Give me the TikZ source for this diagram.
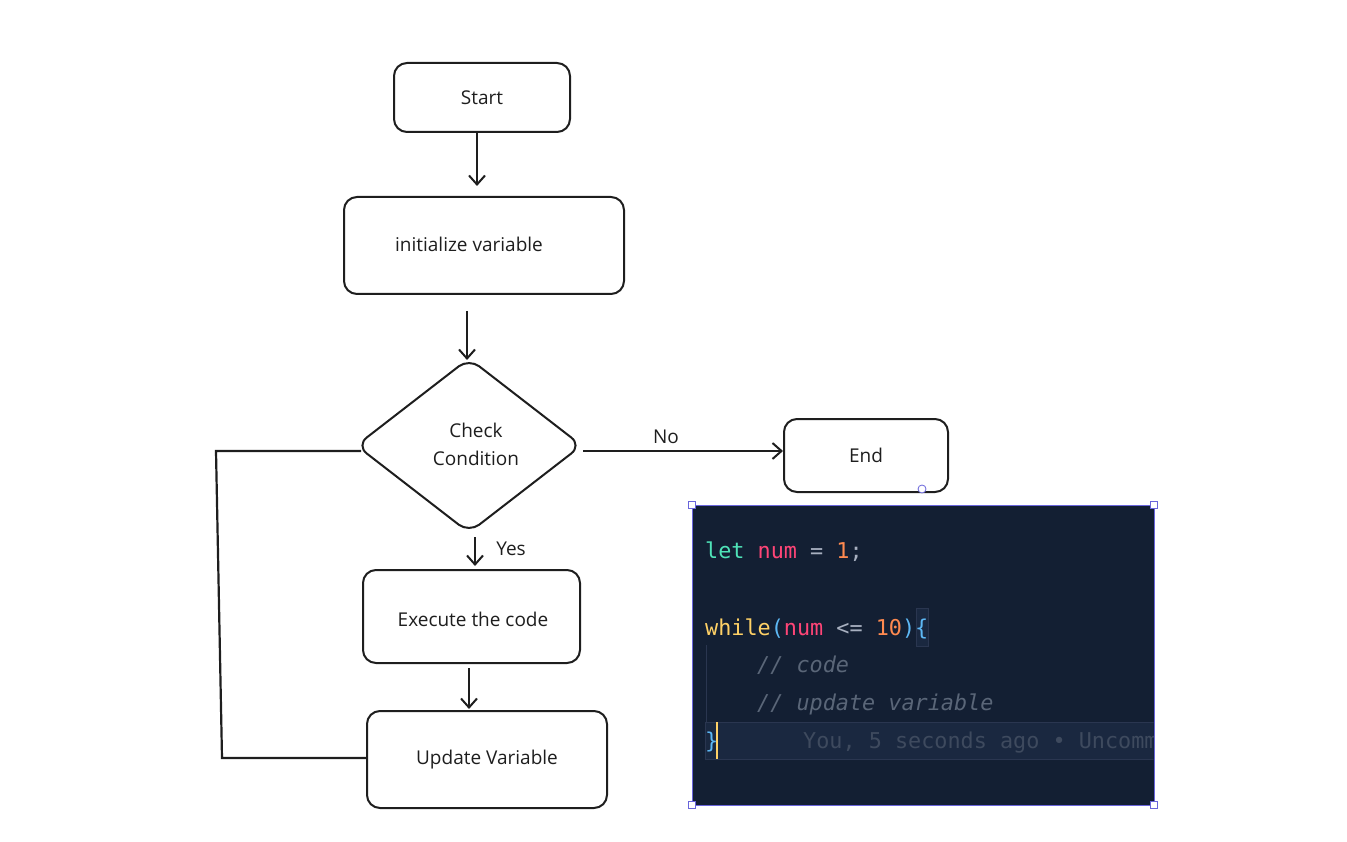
\documentclass[tikz,border=0pt]{standalone}
\usepackage{fontspec}
\setmainfont{Open Sans}
\setmonofont{DejaVu Sans Mono}
\usetikzlibrary{arrows.meta,shapes.geometric}
\definecolor{ink}{HTML}{1E1E1E}
\definecolor{codebg}{HTML}{131F33}
\definecolor{sel}{HTML}{6965DB}
\definecolor{cLet}{HTML}{4FE3B8}
\definecolor{cVar}{HTML}{FF4577}
\definecolor{cNum}{HTML}{FF8A50}
\definecolor{cOp}{HTML}{A8B0C0}
\definecolor{cKey}{HTML}{FFD166}
\definecolor{cBr}{HTML}{5DB8F5}
\definecolor{cCom}{HTML}{5A6678}
\definecolor{cBlame}{HTML}{3E4A5E}
\definecolor{cLine}{HTML}{1A2840}
\definecolor{cLineB}{HTML}{2A3650}
\tikzset{
  box/.style={draw=ink,line width=2pt,rounded corners=13pt,fill=white,font=\fontsize{19}{22}\selectfont,text=ink},
  dia/.style={draw=ink,line width=2pt,diamond,rounded corners=13pt,fill=white,align=center},
  flow/.style={draw=ink,line width=2pt,-{Straight Barb[length=9pt,width=16pt,line width=2pt]}},
  link/.style={draw=ink,line width=2.2pt},
  lbl/.style={font=\fontsize{19}{22}\selectfont,text=ink},
  code/.style={anchor=base west,inner sep=0pt,font=\ttfamily\fontsize{21.8}{24}\selectfont},
  handle/.style={draw=sel,fill=white,line width=0.8pt},
}
\begin{document}
\begin{tikzpicture}[x=1pt,y=-1pt]
\useasboundingbox (0,0) rectangle (1347,842);
% nodes
\node[box,minimum width=176pt,minimum height=69pt] (start) at (482,97.5) {Start};
\node[box,minimum width=280pt,minimum height=97pt] (init) at (484,245.5) {};
\node[lbl] (initt) at (469,244) {initialize variable};
\node[dia,minimum width=226pt,minimum height=175pt,inner sep=0pt] (cond) at (469,445.5) {};
\node[lbl,align=center,font=\fontsize{19}{28}\selectfont] (condt) at (476,444) {Check\\Condition};
\node[box,minimum width=164pt,minimum height=73pt] (end) at (866,455.5) {End};
\node[box,minimum width=217pt,minimum height=93pt] (exec) at (471.5,616.5) {};
\node[lbl] (exect) at (473,619) {Execute the code};
\node[box,minimum width=240pt,minimum height=97pt] (upd) at (487,759.5) {Update Variable};
% connectors
\coordinate (a1) at (477,133);
\coordinate (a1e) at (477,186);
\draw[flow] (a1) -- (a1e);
\coordinate (a2) at (467,311);
\coordinate (a2e) at (467,360);
\draw[flow] (a2) -- (a2e);
\coordinate (a3) at (583,451);
\draw[flow] (a3) -- (end.west |- a3);
\node[lbl] (no) at (666,437) {No};
\coordinate (a4) at (475,537);
\coordinate (a4e) at (475,566);
\draw[flow] (a4) -- (a4e);
\node[lbl] (yes) at (511,549) {Yes};
\coordinate (a5) at (469,668);
\coordinate (a5e) at (469,709);
\draw[flow] (a5) -- (a5e);
\coordinate (l1) at (222,758);
\coordinate (l2) at (216,451);
\coordinate (l3) at (361,451);
\draw[link] (upd.west |- l1) -- (l1) -- (l2) -- (l3);
\node[circle,draw=sel,fill=white,line width=0.8pt,minimum size=8pt,inner sep=0pt] (endh) at (922,489) {};
% code panel
\node[draw=sel,line width=0.8pt,fill=codebg,minimum width=462pt,minimum height=300pt,inner sep=0pt] (panel) at (923,655) {};
\begin{scope}
\clip (692.5,505.5) rectangle (1153.5,804.5);
\fill[cLine] (705,722) rectangle (1160,759);
\draw[cLineB,line width=1pt] (705,722) -- (1160,722) (705,759) -- (1160,759);
\draw[cLineB,line width=1pt] (705,722) -- (705,759);
\draw[cLineB,line width=1pt] (706,645) -- (706,722);
\draw[cLineB,line width=1pt,fill=cLine] (916,608.5) rectangle (928,646);
\draw[cKey,line width=1.6pt] (717,722) -- (717,759);
\node[code] (l1a) at (705,558) {\textcolor{cLet}{let} \textcolor{cVar}{num} \textcolor{cOp}{=} \textcolor{cNum}{1}\textcolor{cOp}{;}};
\node[code] (l2a) at (705,635) {\textcolor{cKey}{while}\textcolor{cBr}{(}\textcolor{cVar}{num} \textcolor{cOp}{<=} \textcolor{cNum}{10}\textcolor{cBr}{)\{}};
\node[code] (l3a) at (757,672) {\itshape\textcolor{cCom}{// code}};
\node[code] (l4a) at (757,710) {\itshape\textcolor{cCom}{// update variable}};
\node[code] (l5a) at (705,748) {\textcolor{cBr}{\}}};
\node[code] (l5b) at (803,748) {\textcolor{cBlame}{You, 5 seconds ago • Uncomm}};
\end{scope}
\foreach \p in {(692,505),(1154,505),(692,805),(1154,805)}
  \draw[handle] \p ++(-3.5,-3.5) rectangle ++(7,7);
\end{tikzpicture}
\end{document}
